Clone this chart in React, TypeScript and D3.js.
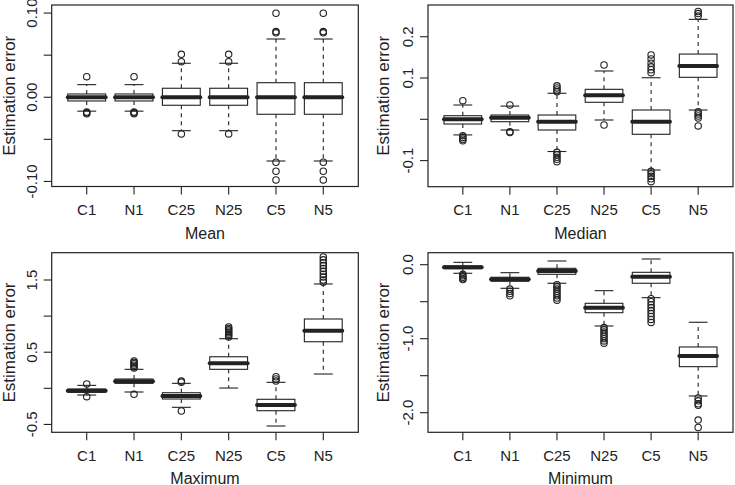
import * as d3 from 'd3'

const categories = ['C1', 'N1', 'C25', 'N25', 'C5', 'N5']

// [lower whisker, q1, median, q3, upper whisker]
const meanStats = [
  [-0.0165, -0.0044, 0, 0.0039, 0.015],
  [-0.0165, -0.0044, 0, 0.0039, 0.015],
  [-0.0397, -0.0095, 0, 0.0107, 0.0404],
  [-0.0397, -0.0095, 0, 0.0107, 0.0404],
  [-0.0757, -0.0202, 0, 0.0173, 0.0692],
  [-0.0757, -0.0202, 0, 0.0173, 0.0692],
]
const meanOutliers = [
  [0.0245, -0.0175, -0.0185, -0.0195],
  [0.0245, -0.0175, -0.0185, -0.0195],
  [0.051, 0.0423, -0.0436],
  [0.051, 0.0423, -0.0436],
  [0.0998, 0.078, 0.0765, -0.0772, -0.0879, -0.0982],
  [0.0998, 0.078, 0.0765, -0.0772, -0.0879, -0.0982],
]

const medianStats = [
  [-0.0378, -0.0114, 0, 0.0087, 0.0346],
  [-0.026, -0.0058, 0.0039, 0.0104, 0.032],
  [-0.078, -0.0259, -0.0058, 0.0104, 0.063],
  [-0.0017, 0.0412, 0.058, 0.0726, 0.117],
  [-0.1228, -0.0363, -0.0058, 0.0225, 0.1007],
  [0.0225, 0.1017, 0.129, 0.158, 0.242],
]
const medianOutliers = [
  [0.045, -0.04, -0.044, -0.048, -0.052],
  [0.0346, -0.03, -0.032],
  [0.081, 0.076, 0.071, 0.067, -0.08, -0.086, -0.092, -0.097, -0.1025],
  [0.1315, -0.0138],
  [0.156, 0.146, 0.136, 0.127, 0.12, 0.113, -0.126, -0.132, -0.138, -0.144, -0.151],
  [0.261, 0.256, 0.25, 0.018, 0.013, 0.008, 0.003, -0.016],
]

const maxStats = [
  [-0.093, -0.055, -0.033, -0.01, 0.041],
  [-0.051, 0.069, 0.097, 0.129, 0.263],
  [-0.263, -0.148, -0.107, -0.061, 0.069],
  [0.004, 0.263, 0.346, 0.437, 0.687],
  [-0.522, -0.31, -0.231, -0.152, 0.083],
  [0.198, 0.645, 0.798, 0.96, 1.445],
]
const maxOutliers = [
  [0.06, -0.116],
  [0.38, 0.36, 0.34, 0.32, 0.3, 0.28, -0.083],
  [0.1, 0.085, -0.314],
  [0.85, 0.83, 0.81, 0.79, 0.77, 0.75, 0.73, 0.71],
  [0.16, 0.13, 0.1],
  [1.82, 1.78, 1.74, 1.7, 1.66, 1.62, 1.58, 1.54, 1.5, 1.47],
]

const minStats = [
  [-0.116, -0.054, -0.035, -0.018, 0.032],
  [-0.319, -0.224, -0.197, -0.17, -0.108],
  [-0.251, -0.13, -0.085, -0.049, 0.05],
  [-0.828, -0.649, -0.581, -0.522, -0.351],
  [-0.446, -0.251, -0.162, -0.103, 0.077],
  [-1.774, -1.378, -1.234, -1.112, -0.778],
]
const minOutliers = [
  [-0.13, -0.15, -0.17, -0.19, -0.2],
  [-0.33, -0.36, -0.39, -0.42],
  [-0.27, -0.3, -0.33, -0.36, -0.39, -0.42, -0.45, -0.48],
  [-0.85, -0.88, -0.91, -0.94, -0.97, -1.0, -1.03, -1.06],
  [-0.46, -0.5, -0.54, -0.58, -0.62, -0.66, -0.7, -0.74, -0.78],
  [-1.8, -1.84, -1.88, -1.9, -2.1, -2.2],
]

const meanDomain = [-0.106, 0.1096]
const medianDomain = [-0.1632, 0.2768]
const maxDomain = [-0.609, 1.878]
const minDomain = [-2.265, 0.162]

const meanTicks = [-0.1, -0.05, 0, 0.05, 0.1]
const meanTickLabels = ['-0.10', '', '0.00', '', '0.10']
const medianTicks = [-0.1, 0, 0.1, 0.2]
const medianTickLabels = ['-0.1', '', '0.1', '0.2']
const maxTicks = [-0.5, 0, 0.5, 1, 1.5]
const maxTickLabels = ['-0.5', '', '0.5', '', '1.5']
const minTicks = [-2, -1.5, -1, -0.5, 0]
const minTickLabels = ['-2.0', '', '-1.0', '', '0.0']

const INK = '#222'
const FONT = '"Liberation Sans", Arial, Helvetica, sans-serif'

interface PanelProps {
  title: string
  stats: number[][]
  outliers: number[][]
  domain: number[]
  ticks: number[]
  tickLabels: string[]
  frame: { left: number; right: number; top: number; bottom: number }
  titleOffset: number
}

function Panel({ title, stats, outliers, domain, ticks, tickLabels, frame, titleOffset }: PanelProps) {
  // R boxplot: xlim = [0.5, n + 0.5] widened by 4% on each side
  const x = d3.scaleLinear()
    .domain([0.5 - 0.24, categories.length + 0.5 + 0.24])
    .range([frame.left, frame.right])
  const y = d3.scaleLinear().domain(domain).range([frame.bottom, frame.top])
  const unit = x(1) - x(0)
  const boxW = unit * 0.8
  const stapleW = boxW * 0.5
  const midY = (frame.top + frame.bottom) / 2

  return (
    <g>
      {stats.map((s, i) => {
        const cx = x(i + 1)
        const [lo, q1, med, q3, hi] = s
        return (
          <g key={categories[i]} stroke={INK} strokeWidth={1.1}>
            <line x1={cx} x2={cx} y1={y(q3)} y2={y(hi)} strokeDasharray="4,4" />
            <line x1={cx} x2={cx} y1={y(q1)} y2={y(lo)} strokeDasharray="4,4" />
            <line x1={cx - stapleW / 2} x2={cx + stapleW / 2} y1={y(hi)} y2={y(hi)} />
            <line x1={cx - stapleW / 2} x2={cx + stapleW / 2} y1={y(lo)} y2={y(lo)} />
            <rect x={cx - boxW / 2} y={y(q3)} width={boxW} height={y(q1) - y(q3)} fill="white" />
            <line x1={cx - boxW / 2} x2={cx + boxW / 2} y1={y(med)} y2={y(med)}
              strokeWidth={4} strokeLinecap="round" />
            {outliers[i].map((o, j) => (
              <circle key={j} cx={cx} cy={y(o)} r={3.2} fill="none" />
            ))}
          </g>
        )
      })}

      <rect x={frame.left} y={frame.top} width={frame.right - frame.left}
        height={frame.bottom - frame.top} fill="none" stroke={INK} strokeWidth={1.2} />

      {/* y axis */}
      {ticks.map((t, i) => (
        <g key={t}>
          <line x1={frame.left - 8} x2={frame.left} y1={y(t)} y2={y(t)} stroke={INK} strokeWidth={1.1} />
          {tickLabels[i] && (
            <text transform={`translate(${frame.left - 15},${y(t)}) rotate(-90)`}
              textAnchor="middle" fontSize={15} fill={INK}>{tickLabels[i]}</text>
          )}
        </g>
      ))}
      <text transform={`translate(${frame.left - titleOffset},${midY}) rotate(-90)`}
        textAnchor="middle" fontSize={17} fill={INK}>Estimation error</text>

      {/* x axis */}
      {categories.map((c, i) => (
        <g key={c}>
          <line x1={x(i + 1)} x2={x(i + 1)} y1={frame.bottom} y2={frame.bottom + 8} stroke={INK} strokeWidth={1.1} />
          <text x={x(i + 1)} y={frame.bottom + 28.5} textAnchor="middle" fontSize={15} fill={INK}>{c}</text>
        </g>
      ))}
      <text x={(frame.left + frame.right) / 2} y={frame.bottom + 52} textAnchor="middle"
        fontSize={16} fill={INK}>{title}</text>
    </g>
  )
}

export default function App() {
  return (
    <svg width={735} height={485} style={{ position: 'absolute', left: 0, top: 0, background: 'white' }}
      fontFamily={FONT}>
      <Panel title="Mean" stats={meanStats} outliers={meanOutliers} domain={meanDomain}
        ticks={meanTicks} tickLabels={meanTickLabels} titleOffset={37}
        frame={{ left: 51.7, right: 358.3, top: 5, bottom: 186.5 }} />
      <Panel title="Median" stats={medianStats} outliers={medianOutliers} domain={medianDomain}
        ticks={medianTicks} tickLabels={medianTickLabels} titleOffset={39.5}
        frame={{ left: 428, right: 733, top: 5, bottom: 186.7 }} />
      <Panel title="Maximum" stats={maxStats} outliers={maxOutliers} domain={maxDomain}
        ticks={maxTicks} tickLabels={maxTickLabels} titleOffset={37}
        frame={{ left: 51.7, right: 358.3, top: 252.7, bottom: 432.3 }} />
      <Panel title="Minimum" stats={minStats} outliers={minOutliers} domain={minDomain}
        ticks={minTicks} tickLabels={minTickLabels} titleOffset={39.5}
        frame={{ left: 428, right: 733, top: 252.7, bottom: 432.3 }} />
    </svg>
  )
}
